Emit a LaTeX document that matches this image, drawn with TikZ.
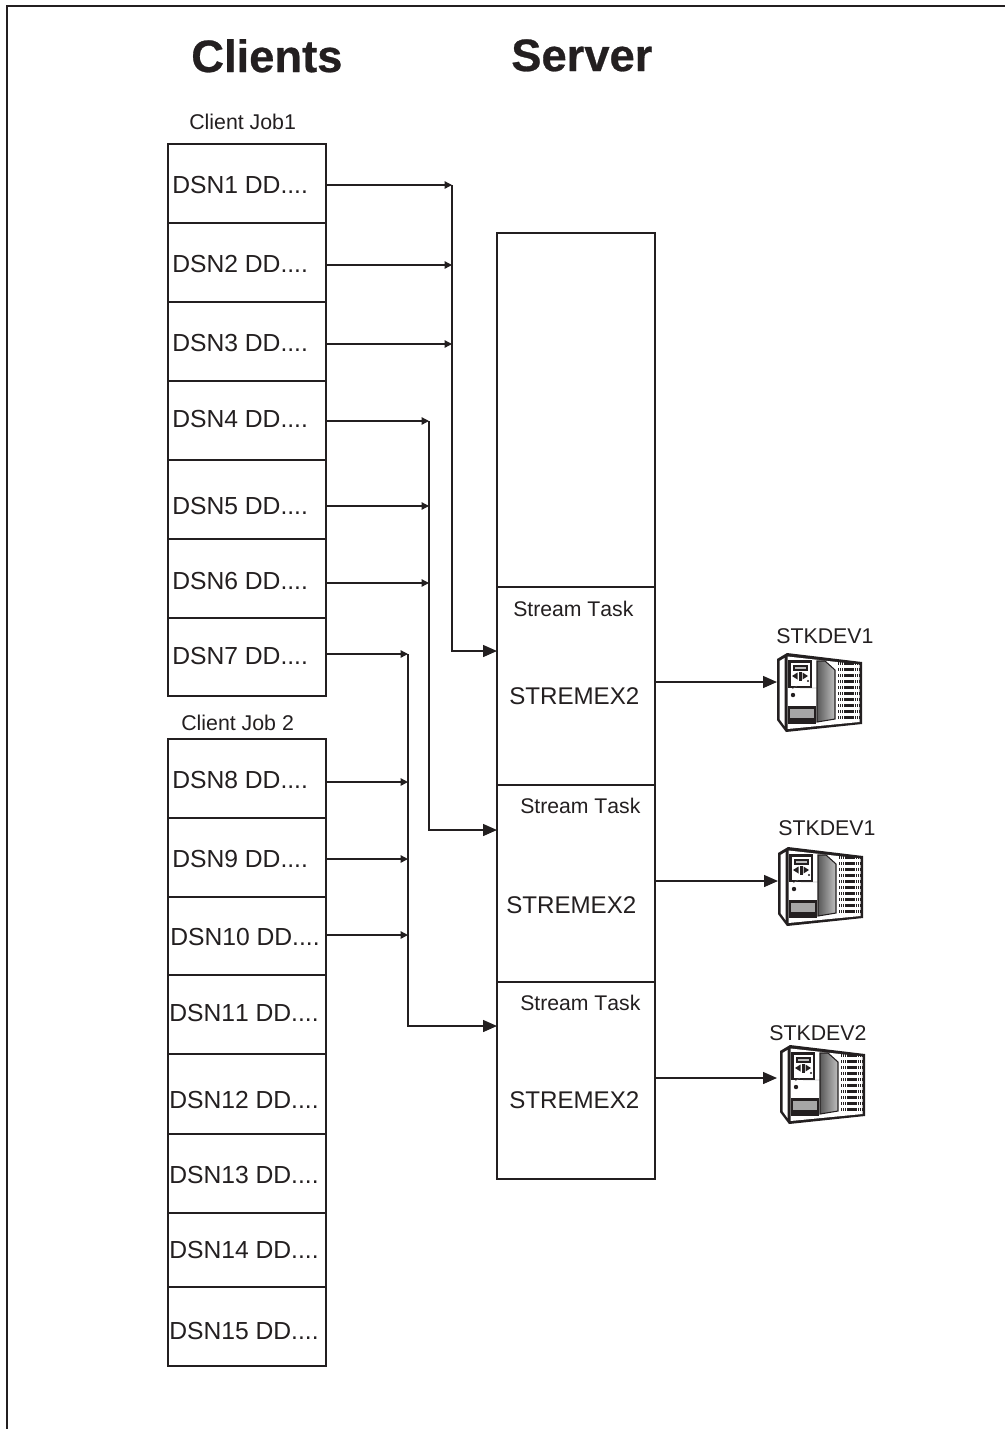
\documentclass[tikz,border=0pt]{standalone}
\usepackage{fontspec}
\setmainfont[Kerning=Off,BoldFeatures={FakeBold=0.6,Kerning=Off}]{Liberation Sans}
\usetikzlibrary{arrows.meta}
\definecolor{ink}{HTML}{231F20}
\tikzset{
  boxln/.style={draw=ink,line width=1pt,fill=white,inner sep=0pt,outer sep=0pt},
  conn/.style={draw=ink,line width=1pt},
  smallarr/.style={conn,-{Triangle[length=5.5pt,width=5.5pt]}},
  bigarr/.style={conn,-{Triangle[length=10.5pt,width=9pt]}},
  dsn/.style={inner sep=0pt,anchor=base west,text=ink,font=\fontsize{18.5}{20}\selectfont},
  task/.style={inner sep=0pt,anchor=base west,text=ink,font=\fontsize{15.9}{18}\selectfont},
  exe/.style={inner sep=0pt,anchor=base west,text=ink,font=\fontsize{18.1}{20}\selectfont},
  lbl/.style={inner sep=0pt,anchor=base west,text=ink,font=\fontsize{16}{18}\selectfont},
  hdr/.style={inner sep=0pt,anchor=base west,text=ink,font=\fontsize{34}{36}\selectfont\bfseries},
  stk/.pic={
    \fill[ink] (0,6) -- (10,0) -- (85,9) -- (85,71) -- (9,79) -- (0,67) -- cycle;
    \fill[white] (2.5,8) -- (7.5,5) -- (7.5,73) -- (2.5,66) -- cycle;
    \fill[white] (10.5,3.5) -- (82.5,11.5) -- (82.5,69) -- (10.5,76) -- cycle;
    \fill[ink] (11,7) rectangle (35,35);
    \fill[white] (13.5,9.5) rectangle (32.5,32.5);
    \fill[ink] (16,11.5) rectangle (31,17.5);
    \fill[black!25] (18,13.5) rectangle (29,15.5);
    \fill[ink] (15,23) -- (20.5,19.5) -- (20.5,26.5) -- cycle;
    \fill[ink] (31,23) -- (25.5,19.5) -- (25.5,26.5) -- cycle;
    \fill[ink] (21.5,19) rectangle (24.5,27.5);
    \fill[ink] (31,28) circle (1.2);
    \draw[ink!70,line width=.3pt] (15,36) -- (20,33) (23,35) -- (40,35);
    \fill[ink] (16,42) circle (2.2);
    \fill[ink] (10.5,53) rectangle (39,71);
    \fill[black!35] (13,55.5) rectangle (36.5,65);
    \shade[left color=black!65,right color=black!25,draw=ink,line width=.8pt]
      (40,8) -- (48,8) -- (58,17) -- (58,66) -- (40,69) -- cycle;
    \foreach \r in {0,...,9}{
      \draw[ink,line width=2.6pt,dash pattern=on 1pt off .55pt] (61,{10.5+\r*6.0}) -- (82,{10.5+\r*6.0});
    }
  }
}
\newcommand{\rowbox}[3]{\node[boxln,minimum width=118.5pt,minimum height={(#3-#2)*0.75pt}] (#1) at (247,{(#2+#3)/2}) {};}
\newcommand{\srvbox}[3]{\node[boxln,minimum width=118.5pt,minimum height={(#3-#2)*0.75pt}] (#1) at (576,{(#2+#3)/2}) {};}
\begin{document}
\begin{tikzpicture}[x=0.75pt,y=-0.75pt]
\useasboundingbox (0,0) rectangle (1005,1429);
% page frame
\coordinate (fa) at (7,1429);
\coordinate (fb) at (7,6);
\coordinate (fc) at (1005,6);
\draw[ink,line width=1.5pt,line join=miter] (fa) -- (fb) -- (fc);

\node[hdr] (hc) at (191,72) {Clients};
\node[hdr] (hs) at (511,71) {Server};
\node[lbl] (j1) at (189,129) {Client Job1};
\node[lbl] (j2) at (181,730) {Client Job 2};

% client boxes
\rowbox{d1}{144}{223}
\rowbox{d2}{223}{302}
\rowbox{d3}{302}{381}
\rowbox{d4}{381}{460}
\rowbox{d5}{460}{539}
\rowbox{d6}{539}{618}
\rowbox{d7}{618}{696}
\rowbox{d8}{739}{818}
\rowbox{d9}{818}{897}
\rowbox{d10}{897}{975}
\rowbox{d11}{975}{1054}
\rowbox{d12}{1054}{1134}
\rowbox{d13}{1134}{1213}
\rowbox{d14}{1213}{1287}
\rowbox{d15}{1287}{1366}

\node[dsn] (t1) at (172,193) {DSN1 DD....};
\node[dsn] (t2) at (172,272) {DSN2 DD....};
\node[dsn] (t3) at (172,351) {DSN3 DD....};
\node[dsn] (t4) at (172,427) {DSN4 DD....};
\node[dsn] (t5) at (172,514) {DSN5 DD....};
\node[dsn] (t6) at (172,589) {DSN6 DD....};
\node[dsn] (t7) at (172,664) {DSN7 DD....};
\node[dsn] (t8) at (172,788) {DSN8 DD....};
\node[dsn] (t9) at (172,867) {DSN9 DD....};
\node[dsn] (t10) at (170,945) {DSN10 DD....};
\node[dsn] (t11) at (169,1021) {DSN11 DD....};
\node[dsn] (t12) at (169,1108) {DSN12 DD....};
\node[dsn] (t13) at (169,1183) {DSN13 DD....};
\node[dsn] (t14) at (169,1258) {DSN14 DD....};
\node[dsn] (t15) at (169,1339) {DSN15 DD....};

% server
\srvbox{s0}{233}{587}
\srvbox{s1}{587}{785}
\srvbox{s2}{785}{982}
\srvbox{s3}{982}{1179}
\node[task] (st1) at (513,616) {Stream Task};
\node[task] (st2) at (520,813) {Stream Task};
\node[task] (st3) at (520,1010) {Stream Task};
\node[exe] (e1) at (509,704) {STREMEX2};
\node[exe] (e2) at (506,913) {STREMEX2};
\node[exe] (e3) at (509,1108) {STREMEX2};

% bus points
\coordinate (a1) at (452,185);
\coordinate (a2) at (452,265);
\coordinate (a3) at (452,344);
\coordinate (a4) at (429,421);
\coordinate (a5) at (429,506);
\coordinate (a6) at (429,583);
\coordinate (a7) at (408,654);
\coordinate (a8) at (408,782);
\coordinate (a9) at (408,859);
\coordinate (a10) at (408,935);
\coordinate (in1) at (497,651);
\coordinate (in2) at (497,830);
\coordinate (in3) at (497,1026);

\foreach \i in {1,...,10}{
  \draw[smallarr] (d\i.east |- a\i) -- (a\i);
}
\draw[bigarr] (a1) -- (a1 |- in1) -- (in1);
\draw[bigarr] (a4) -- (a4 |- in2) -- (in2);
\draw[bigarr] (a7) -- (a7 |- in3) -- (in3);

% devices
\node[lbl] (l1) at (776,643) {STKDEV1};
\node[lbl] (l2) at (778,835) {STKDEV1};
\node[lbl] (l3) at (769,1040) {STKDEV2};
\pic at (777,653) {stk};
\pic at (778,847) {stk};
\pic at (780,1045) {stk};
\coordinate (v1) at (777,682);
\coordinate (v2) at (778,881);
\coordinate (v3) at (777,1078);
\draw[bigarr] (s1.east |- v1) -- (v1);
\draw[bigarr] (s2.east |- v2) -- (v2);
\draw[bigarr] (s3.east |- v3) -- (v3);
\end{tikzpicture}
\end{document}
